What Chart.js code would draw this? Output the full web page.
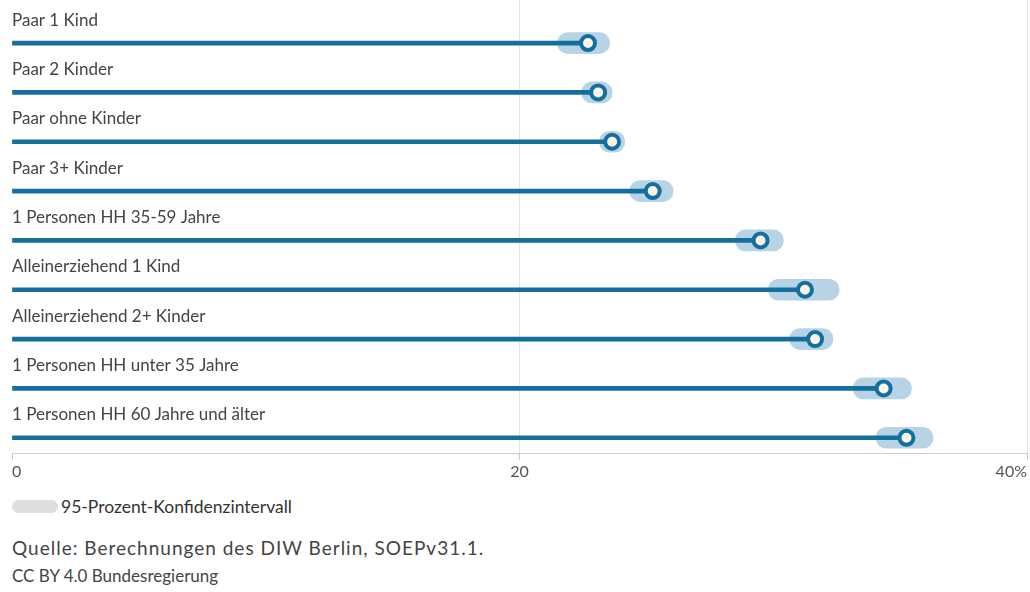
<!DOCTYPE html>
<html lang="de">
<head>
<meta charset="utf-8">
<title>Armutsrisiko nach Haushaltstyp</title>
<script src="https://cdn.jsdelivr.net/npm/chart.js@4.4.1/dist/chart.umd.min.js"></script>
<style>
  html, body { margin: 0; padding: 0; background: #fff; }
  body { width: 1030px; height: 592px; position: relative; overflow: hidden; font-family: Lato, "Open Sans", sans-serif; }
  #chartBox { position: absolute; left: 0; top: 0; width: 1030px; height: 483px; }
  .legend { position: absolute; left: 12px; top: 496px; font-size: 17.5px; color: #333; display: flex; align-items: center; }
  .legend .pill { display: inline-block; width: 46px; height: 13px; border-radius: 7px; background: #dedede; margin-right: 3px; }
  .source { position: absolute; left: 12px; font-size: 17px; color: #444; }
</style>
</head>
<body>
<div id="chartBox"><canvas id="povertyChart"></canvas></div>
<div class="legend"><span class="pill"></span>95-Prozent-Konfidenzintervall</div>
<div class="source" style="top: 536px; font-size: 19px; letter-spacing: 1px;">Quelle: Berechnungen des DIW Berlin, SOEPv31.1.</div>
<div class="source" style="top: 565px;">CC BY 4.0 Bundesregierung</div>

<script>
// Haushaltstypen (von oben nach unten)
const categories = [
    'Paar 1 Kind',
    'Paar 2 Kinder',
    'Paar ohne Kinder',
    'Paar 3+ Kinder',
    '1 Personen HH 35-59 Jahre',
    'Alleinerziehend 1 Kind',
    'Alleinerziehend 2+ Kinder',
    '1 Personen HH unter 35 Jahre',
    '1 Personen HH 60 Jahre und älter'
];

// Armutsrisikoquote in Prozent
const quote = [22.7, 23.1, 23.65, 25.25, 29.5, 31.25, 31.65, 34.35, 35.25];

// 95-Prozent-Konfidenzintervall, untere und obere Grenze
const ciLow  = [21.5, 22.45, 23.15, 24.35, 28.5, 29.8, 30.65, 33.15, 34.05];
const ciHigh = [23.55, 23.65, 24.15, 26.05, 30.4, 32.6, 32.35, 35.45, 36.3];

const xTicks = [0, 20, 40];

const dark = '#156f9c';

const bandData = categories.map((c, i) => ({ x: [ciLow[i], ciHigh[i]], y: i }));
const stemData = categories.map((c, i) => ({ x: [0, quote[i]], y: i }));
const dotData = categories.map((c, i) => ({ x: quote[i], y: i }));

// Beschriftung jeder Zeile über der Linie
const rowLabels = {
    id: 'rowLabels',
    afterDraw(chart) {
        const ctx = chart.ctx;
        const yScale = chart.scales.y;
        ctx.save();
        ctx.font = '17px Lato, "Open Sans", sans-serif';
        ctx.fillStyle = '#444';
        ctx.textAlign = 'left';
        ctx.textBaseline = 'middle';
        categories.forEach((label, i) => {
            ctx.fillText(label, chart.chartArea.left, yScale.getPixelForValue(i) - 23);
        });
        ctx.restore();
    }
};

new Chart(document.getElementById('povertyChart'), {
    type: 'bar',
    data: {
        datasets: [
            {
                label: '95-Prozent-Konfidenzintervall',
                data: bandData,
                backgroundColor: '#b7d4e7',
                barThickness: 21,
                borderRadius: 11,
                borderSkipped: false,
                grouped: false,
                order: 3
            },
            {
                label: 'Quote',
                data: stemData,
                backgroundColor: dark,
                barThickness: 4,
                borderSkipped: false,
                grouped: false,
                order: 2
            },
            {
                type: 'line',
                label: 'Punkt',
                data: dotData,
                showLine: false,
                pointRadius: 7,
                pointBorderWidth: 4,
                pointBackgroundColor: '#fdf4ec',
                pointBorderColor: dark,
                order: 1
            }
        ]
    },
    options: {
        indexAxis: 'y',
        responsive: true,
        maintainAspectRatio: false,
        animation: false,
        layout: { autoPadding: false, padding: { left: 12, right: 3, top: 0, bottom: 0 } },
        scales: {
            x: {
                type: 'linear',
                min: 0,
                max: 40,
                afterBuildTicks(axis) {
                    axis.ticks = xTicks.map(v => ({ value: v }));
                },
                border: { display: true, color: '#cfcfcf' },
                grid: {
                    color: ctx => ctx.tick && ctx.tick.value === 0 ? 'rgba(0,0,0,0)' : '#e4e4e4',
                    tickColor: '#c8c8c8',
                    tickLength: 6,
                    drawOnChartArea: true
                },
                ticks: {
                    align: 'inner',
                    padding: 2,
                    color: '#555',
                    font: { family: 'Lato, "Open Sans", sans-serif', size: 16 },
                    callback: v => v === 40 ? v + '%' : String(v)
                }
            },
            y: {
                type: 'linear',
                reverse: true,
                offset: false,
                min: -0.873,
                max: 8.325,
                display: false
            }
        },
        plugins: {
            legend: { display: false },
            tooltip: { enabled: false }
        }
    },
    plugins: [rowLabels]
});
</script>
</body>
</html>
